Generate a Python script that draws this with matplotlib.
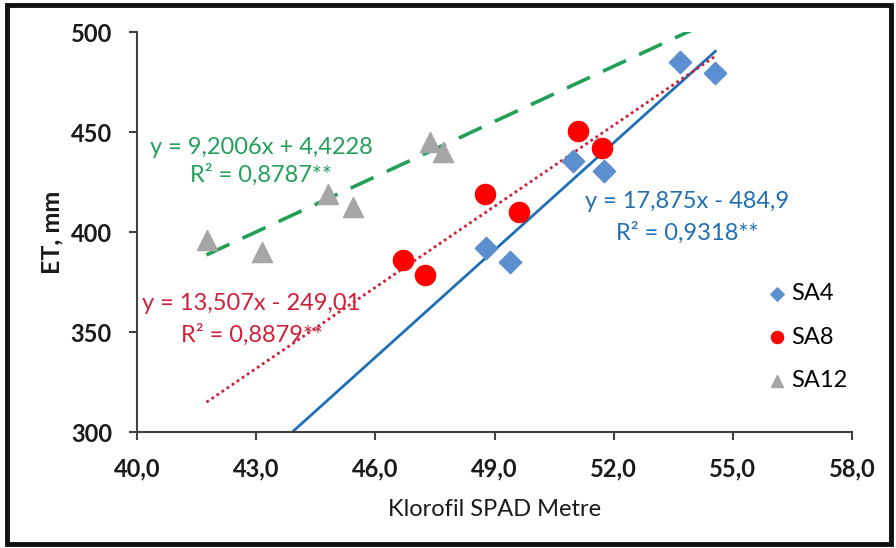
import numpy as np
import matplotlib
matplotlib.use("Agg")
import matplotlib.pyplot as plt
from matplotlib.patches import Rectangle

plt.rcParams["font.family"] = ["Lato", "DejaVu Sans"]

# veriler
sa4_x = [48.78, 49.38, 50.98, 51.75, 53.66, 54.56]
sa4_y = [392, 385, 435.5, 430.7, 485, 479.3]
sa8_x = [46.70, 47.26, 48.75, 49.62, 51.09, 51.71]
sa8_y = [386, 378.5, 419, 410, 450.5, 442]
sa12_x = [41.75, 43.15, 44.80, 45.44, 47.37, 47.71]
sa12_y = [396, 390, 419, 412.7, 445, 440]

# trend denklemleri (egim, kesisim)
fit_sa4 = (17.875, -484.9)
fit_sa8 = (13.507, -249.01)
fit_sa12 = (9.2006, 4.4228)

eq_sa4 = ["y = 17,875x - 484,9", "R² = 0,9318**"]
eq_sa8 = ["y = 13,507x - 249,01", "R² = 0,8879**"]
eq_sa12 = ["y = 9,2006x + 4,4228", "R² = 0,8787**"]

x_ticks = [40, 43, 46, 49, 52, 55, 58]
x_tick_labels = ["40,0", "43,0", "46,0", "49,0", "52,0", "55,0", "58,0"]
y_ticks = [300, 350, 400, 450, 500]

C_SA4 = "#5b8fd0"
C_SA8 = "#ff0000"
C_SA12 = "#a6a6a6"
C_L4 = "#1f6fb5"
C_L8 = "#d02038"
C_L12 = "#22a05a"

fig = plt.figure(figsize=(8.96, 5.48), dpi=100)
ax = fig.add_axes([137/896, 1-432/548, (852-137)/896, 400/548])

all_x = sa4_x + sa8_x + sa12_x
xs = np.array([min(all_x), max(all_x)])

ax.plot(xs, fit_sa4[0]*xs + fit_sa4[1], color=C_L4, lw=2, zorder=2)
ax.plot(xs, fit_sa8[0]*xs + fit_sa8[1], color=C_L8, lw=2, ls=(0, (1, 1.2)), zorder=2)
ax.plot(xs, fit_sa12[0]*xs + fit_sa12[1], color=C_L12, lw=2.6, ls=(0, (7, 4)), zorder=2)

ax.scatter(sa4_x, sa4_y, marker="D", s=130, color=C_SA4, label="SA4", zorder=3)
ax.scatter(sa8_x, sa8_y, marker="o", s=210, color=C_SA8, label="SA8", zorder=3)
ax.scatter(sa12_x, sa12_y, marker="^", s=210, color=C_SA12, label="SA12", zorder=3)

ax.set_xlim(40, 58)
ax.set_ylim(300, 500)
ax.set_xticks(x_ticks)
ax.set_xticklabels(x_tick_labels)
ax.set_yticks(y_ticks)
for s in ["top", "right"]:
    ax.spines[s].set_visible(False)
for s in ["left", "bottom"]:
    ax.spines[s].set_color("#404040")
    ax.spines[s].set_linewidth(1.5)
ax.tick_params(direction="out", length=6, width=1.5, color="#404040",
               labelsize=17)
ax.tick_params(axis="x", pad=12)
ax.tick_params(axis="y", pad=12)
for lbl in ax.get_xticklabels() + ax.get_yticklabels():
    lbl.set_fontweight("bold")
    lbl.set_color("#1a1a1a")

ax.set_xlabel("Klorofil SPAD Metre", fontsize=17, color="#1a1a1a", labelpad=14)
ax.set_ylabel("ET, mm", fontsize=18, fontweight="bold", color="#1a1a1a", labelpad=5)

# denklemler
fs = 17
ax.text(43.12, 442.5, eq_sa12[0], color=C_L12, fontsize=fs, ha="center", va="center")
ax.text(43.12, 428.5, eq_sa12[1], color=C_L12, fontsize=fs, ha="center", va="center")
ax.text(53.85, 415, eq_sa4[0], color=C_L4, fontsize=fs, ha="center", va="center")
ax.text(53.85, 399.5, eq_sa4[1], color=C_L4, fontsize=fs, ha="center", va="center")
ax.text(42.88, 364.5, eq_sa8[0], color=C_L8, fontsize=fs, ha="center", va="center")
ax.text(42.9, 348.5, eq_sa8[1], color=C_L8, fontsize=fs, ha="center", va="center")

leg = ax.legend(loc="upper left", bbox_to_anchor=(742/896, 1-262/548),
                bbox_transform=fig.transFigure, frameon=False, fontsize=17,
                handletextpad=0.0, labelspacing=0.95, markerscale=0.6,
                handlelength=1.2)

fig.add_artist(Rectangle((0.008, 0.007), 0.986, 0.983, transform=fig.transFigure,
                         fill=False, edgecolor="#111111", linewidth=3.5))

fig.savefig("out.png", dpi=100)
